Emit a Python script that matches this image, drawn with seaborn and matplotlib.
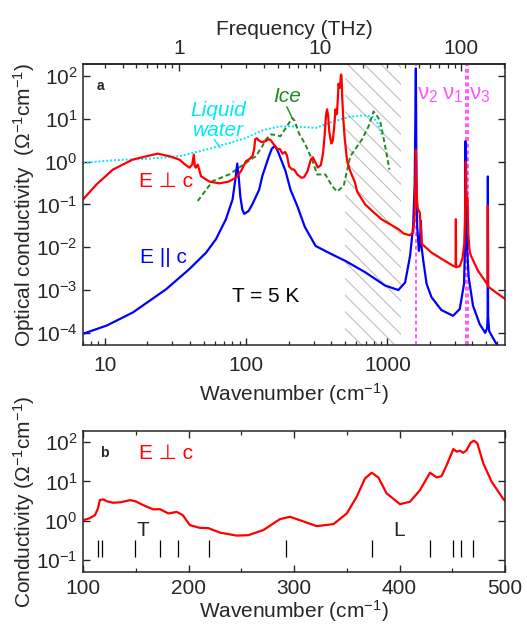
import matplotlib
matplotlib.use("Agg")
import matplotlib.pyplot as plt
from matplotlib import ticker
import seaborn as sns
import pandas as pd

# E perpendicular c (red), wavenumber in cm-1, conductivity in Ohm-1 cm-1
perp_wn = [7.0, 8.7, 11.4, 15.7, 19.7, 23.6, 28.7, 33.7, 37.0, 39.7, 41.5, 42.6, 43.3, 44.0, 45.5,
           47.9, 55.0, 64.6, 75.0, 84.7, 92.0, 100, 106, 111.4, 114, 116, 119, 123, 128.7, 136,
           144.5, 150, 157, 166.6, 173, 181, 188.8, 194.5, 201.4, 210.9, 218.8, 229.9, 245.7, 256.7,
           270.9, 286.7, 296.2, 305.7, 321.5, 337.3, 350, 359.4, 367.3, 373.6, 379.9, 387.8, 400.4,
           409.9, 419.4, 428.9, 435.2, 439.9, 444.7, 451, 454.1, 457.3, 460.4, 463.6, 467.4, 470.5,
           473.7, 479.4, 487.3, 498.4, 517, 540, 590, 610, 695, 800, 908, 1050, 1205, 1297, 1440,
           1520, 1555, 1575, 1590, 1600, 1615, 1640, 1670, 1695, 1705, 1725, 1750, 2050, 2550,
           2950, 3040, 3052, 3064, 3250, 3400, 3500, 3540, 3570, 3590, 3605, 3630, 3660, 3690,
           3710, 3740, 3800, 3880, 4380, 5003, 5125, 5142, 5160, 5730, 6800]
perp_sigma = [0.13, 0.29, 0.65, 1.11, 1.33, 1.53, 1.33, 1.11, 0.85, 0.72, 0.85, 1.45, 0.8, 0.72, 0.85,
              0.455, 0.34, 0.31, 0.34, 0.42, 0.6, 1.03, 1.15, 1.39, 2.0, 3.34, 3.5, 3.1, 2.86, 2.95,
              3.34, 3.1, 2.5, 1.94, 1.97, 1.53, 1.68, 1.39, 0.77, 0.66, 0.65, 0.50, 0.42, 0.43,
              0.58, 1.10, 1.26, 1.03, 0.73, 0.82, 1.53, 4.06, 11.9, 16.6, 12.6, 4.95, 2.64,
              3.03, 6.0, 16.6, 12.6, 13.6, 26, 66, 57, 60, 53, 62, 96, 108,
              93, 28.7, 9.8, 3.55, 1.11, 0.65, 0.32, 0.2, 0.1, 0.065, 0.045, 0.034, 0.026, 0.021, 0.019,
              0.022, 0.05, 0.3, 1.9, 0.5, 0.15, 0.08, 0.07, 0.065, 0.045, 0.03, 0.012, 0.0075, 0.0048,
              0.0036, 0.0035, 0.045, 0.0034, 0.0036, 0.0055, 0.012, 0.04, 0.3, 1.0, 0.25, 0.13, 0.15, 0.14,
              0.06, 0.02, 0.009, 0.0066, 0.0028, 0.0015, 0.0013, 0.092, 0.0012, 0.00093, 0.00062]

# E parallel c (blue)
par_wn = [7.0, 10.3, 15.8, 27.2, 39.7, 52.1, 61.2, 71.9, 80.1, 84, 86.5, 88.5, 91, 94, 97, 104,
          110.5, 123.6, 130, 145, 152, 160, 168, 180, 190, 206, 230, 260, 310, 405, 503, 696, 964,
          1195, 1334, 1447, 1520, 1560, 1590, 1605, 1625, 1671, 1700, 1726, 1745, 1795, 1893, 2051,
          2411, 2915, 3252, 3486, 3540, 3565, 3580, 3600, 3620, 3660, 3760, 4035, 4499, 4921, 5080,
          5125, 5142, 5160, 5250, 5430, 5890, 6300]
par_sigma = [9.5e-5, 1.48e-4, 3.0e-4, 1.05e-3, 3.1e-3, 7.5e-3, 0.0155, 0.045, 0.13, 0.4, 0.9, 0.45,
             0.15, 0.075, 0.06, 0.07, 0.1, 0.22, 0.455, 1.33, 2.0, 2.35, 1.7, 0.95, 0.6, 0.22, 0.092,
             0.03, 0.0107, 0.0068, 0.0048, 0.0026, 0.00127, 0.001, 0.0015, 0.0063, 0.03, 0.3, 150,
             0.4, 0.03, 0.0082, 0.015, 0.041, 0.01, 0.0048, 0.0014, 6.8e-4, 3.4e-4, 2.5e-4, 3.6e-4,
             1.4e-3, 0.01, 3.0, 0.2, 1.45, 0.05, 0.01, 0.002, 4.3e-4, 1.6e-4, 1.0e-4, 1.3e-4,
             2.5e-4, 0.45, 2.5e-4, 1.1e-4, 9e-5, 5.6e-5, 4e-5]

# liquid water (cyan dotted) and ice (green dashed)
water_wn = [7.0, 11.4, 19.7, 33.7, 57.9, 99.6, 130, 171, 224, 310, 384, 531, 700, 790, 850, 910]
water_sigma = [0.93, 1.07, 1.16, 1.33, 2.08, 3.56, 5.35, 6.6, 6.6, 6.1, 7.9, 11, 12, 11, 8, 4.3]

ice_wn = [45.4, 57.9, 75.9, 99.6, 117, 130, 137.6, 149.4, 160, 175, 191, 212, 220, 236, 263, 293,
          318, 364, 405, 440, 490, 546, 659, 735, 797, 840, 889, 964, 1033]
ice_sigma = [0.12, 0.35, 0.5, 0.93, 1.33, 2.27, 3.25, 4.3, 4.2, 3.9, 6.1, 10.4, 9.0, 4.65, 2.48, 1.11,
             0.5, 0.5, 0.27, 0.2, 0.27, 1.33, 3.25, 6.6, 14.8, 12, 8.7, 2.27, 0.65]

# water molecule modes (nu2, nu1, nu3) and the gap in the data
nu_lines = [1590, 3585, 3715]
gap_range = (500, 1250)

# TO / LO phonon positions in panel b
mode_pos = [114, 118, 149, 173, 190, 219, 292, 374, 429, 451, 458, 470]

RED = "#ff0000"
BLUE = "#0000ff"
CYAN = "#00e8f8"
GREEN = "#1f8a1f"
MAGENTA = "#ff55ff"
FS = 15

sns.set_style("ticks")
plt.rcParams["font.family"] = ["Liberation Sans", "DejaVu Sans"]
plt.rcParams["mathtext.fontset"] = "custom"
plt.rcParams["mathtext.rm"] = "Liberation Sans"
plt.rcParams["mathtext.it"] = "Liberation Sans:italic"
plt.rcParams["mathtext.bf"] = "Liberation Sans:bold"
plt.rcParams["font.size"] = FS
plt.rcParams["axes.linewidth"] = 1.1
plt.rcParams["hatch.linewidth"] = 0.8


def draw(ax, wn, sig, color, **kw):
    df = pd.DataFrame({"wn": wn, "sigma": sig})
    sns.lineplot(data=df, x="wn", y="sigma", ax=ax, color=color, sort=False, estimator=None, **kw)


def style_ticks(ax, pad=4):
    ax.tick_params(which="major", direction="in", length=5, width=1.0, labelsize=FS, pad=pad)
    ax.tick_params(which="minor", direction="in", length=3, width=0.9)


fig = plt.figure(figsize=(5.27, 6.25), dpi=100)
ax = fig.add_axes([0.1575, 0.448, 0.8008, 0.4496])
axb = fig.add_axes([0.1575, 0.0848, 0.8008, 0.2256])

# ---- panel a ----
ax.axvspan(*gap_range, facecolor="none", edgecolor="0.75", hatch="\\\\", linewidth=0, zorder=0)
draw(ax, water_wn, water_sigma, CYAN, lw=1.4, linestyle=(0, (1, 1)))
draw(ax, ice_wn, ice_sigma, GREEN, lw=1.4, linestyle=(0, (2.5, 1.5)))
for nu in nu_lines:
    ax.axvline(nu, color=MAGENTA, lw=1.4, linestyle=(0, (2, 1.5)), zorder=1)
draw(ax, par_wn, par_sigma, BLUE, lw=1.6)
draw(ax, perp_wn, perp_sigma, RED, lw=1.6)

ax.set_xscale("log")
ax.set_yscale("log")
ax.set_xlim(7, 6800)
ax.set_ylim(5.2e-5, 190)
ax.xaxis.set_major_locator(ticker.FixedLocator([10, 100, 1000]))
ax.xaxis.set_major_formatter(ticker.FuncFormatter(lambda v, _: f"{v:g}"))
ax.xaxis.set_minor_locator(ticker.LogLocator(base=10, subs=range(2, 10), numticks=20))
ax.xaxis.set_minor_formatter(ticker.NullFormatter())
ax.yaxis.set_major_locator(ticker.LogLocator(base=10, numticks=20))
ax.yaxis.set_minor_locator(ticker.NullLocator())
ax.tick_params(axis="y", right=True)
ax.tick_params(axis="x", top=False)
style_ticks(ax)
ax.tick_params(axis="x", which="major", pad=8)
ax.set_xlabel("Wavenumber (cm$^{-1}$)", fontsize=FS, labelpad=4)
ax.set_ylabel("Optical conductivity  ($\\Omega^{-1}$cm$^{-1}$)", fontsize=FS)
ax.yaxis.set_label_coords(-0.109, 0.5)

sec = ax.secondary_xaxis("top", functions=(lambda w: w / 33.356, lambda f: f * 33.356))
sec.xaxis.set_major_locator(ticker.FixedLocator([1, 10, 100]))
sec.xaxis.set_major_formatter(ticker.FuncFormatter(lambda v, _: f"{v:g}"))
sec.xaxis.set_minor_locator(ticker.LogLocator(base=10, subs=range(2, 10), numticks=20))
sec.xaxis.set_minor_formatter(ticker.NullFormatter())
style_ticks(sec)
sec.set_xlabel("Frequency (THz)", fontsize=FS, labelpad=3)

ax.text(0.033, 0.92, "a", transform=ax.transAxes, fontsize=10, fontweight="bold", va="center")
ax.text(63.5, 9.2, "Liquid\nwater", color=CYAN, style="italic", fontsize=FS,
        ha="center", va="center", linespacing=1.1)
ax.annotate("", xy=(65.6, 2.12), xytext=(59.5, 3.25),
            arrowprops=dict(arrowstyle="-", color=CYAN, lw=1, shrinkA=0, shrinkB=0))
ax.text(194, 32.5, "Ice", color=GREEN, style="italic", fontsize=FS, ha="center", va="center")
ax.annotate("", xy=(212, 10.4), xytext=(194, 19),
            arrowprops=dict(arrowstyle="-", color=GREEN, lw=1, shrinkA=0, shrinkB=0))
ax.text(26.9, 0.343, "E \u22a5 c", color=RED, fontsize=FS, ha="center", va="center")
ax.text(26.0, 0.00585, "E || c", color=BLUE, fontsize=FS, ha="center", va="center")
ax.text(138.6, 6.9e-4, "T = 5 K", color="black", fontsize=FS, ha="center", va="center")
for label, xpos in zip(["\u03bd$_2$", "\u03bd$_1$", "\u03bd$_3$"], [1630, 2420, 3800]):
    ax.text(xpos, 36, label, color=MAGENTA, fontsize=16, ha="left", va="center")

# ---- panel b ----
draw(axb, perp_wn, perp_sigma, RED, lw=1.6)
axb.vlines(mode_pos, 0.12, 0.32, color="black", lw=0.9)
axb.set_yscale("log")
axb.set_xlim(100, 500)
axb.set_ylim(0.05, 190)
axb.xaxis.set_major_locator(ticker.MultipleLocator(100))
axb.xaxis.set_minor_locator(ticker.MultipleLocator(50))
axb.yaxis.set_major_locator(ticker.LogLocator(base=10, numticks=20))
axb.yaxis.set_minor_locator(ticker.NullLocator())
axb.tick_params(which="both", top=True, right=True)
style_ticks(axb)
axb.tick_params(axis="x", which="major", pad=5)
axb.set_xlabel("Wavenumber (cm$^{-1}$)", fontsize=FS, labelpad=0)
axb.set_ylabel("Conductivity ($\\Omega^{-1}$cm$^{-1}$)", fontsize=FS)
axb.yaxis.set_label_coords(-0.109, 0.5)
axb.text(0.04, 0.844, "b", transform=axb.transAxes, fontsize=10, fontweight="bold", va="center")
axb.text(178.7, 52.5, "E \u22a5 c", color=RED, fontsize=FS, ha="center", va="center")
axb.text(156.9, 0.57, "T", fontsize=FS, ha="center", va="center")
axb.text(399.5, 0.57, "L", fontsize=FS, ha="center", va="center")

fig.savefig("out.png", dpi=100)
